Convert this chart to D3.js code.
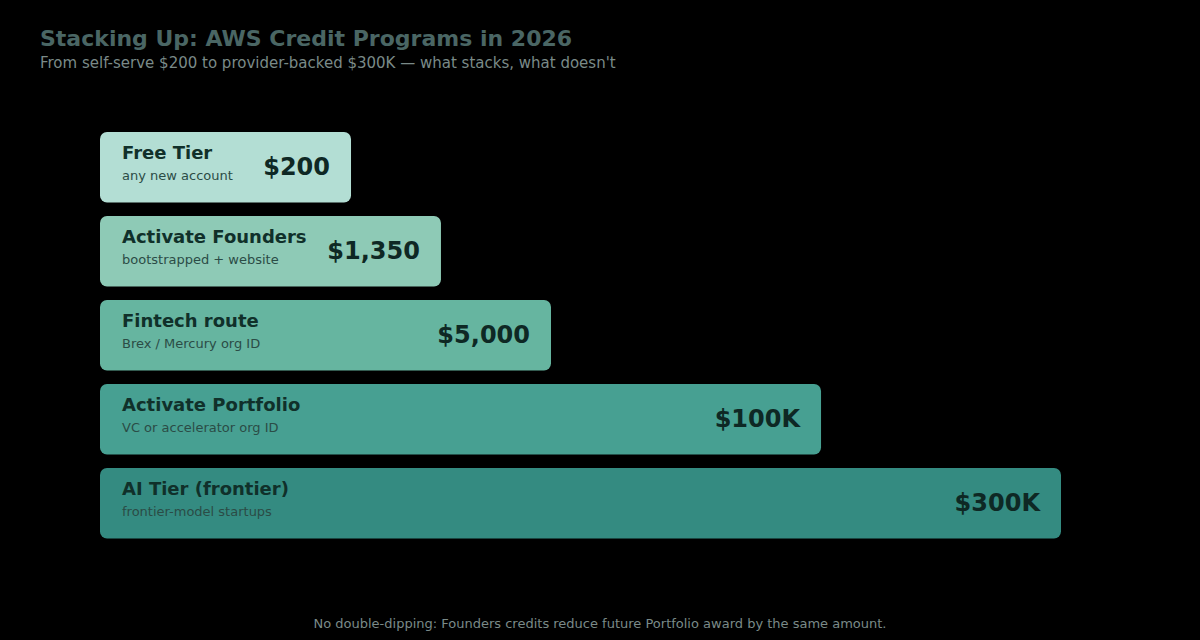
<!DOCTYPE html>
<html>
<head>
<meta charset="utf-8">
<script src="https://cdn.jsdelivr.net/npm/d3@7"></script>
<style>
  html, body { margin: 0; padding: 0; background: #000; }
  svg { display: block; }
  text { font-family: "DejaVu Sans", sans-serif; }
</style>
</head>
<body>
<script>
// ---- data ----
const programs = ["Free Tier", "Activate Founders", "Fintech route", "Activate Portfolio", "AI Tier (frontier)"];
const notes = ["any new account", "bootstrapped + website", "Brex / Mercury org ID", "VC or accelerator org ID", "frontier-model startups"];
const credits = [200, 1350, 5000, 100000, 300000];
const creditLabels = ["$200", "$1,350", "$5,000", "$100K", "$300K"];
const title = "Stacking Up: AWS Credit Programs in 2026";
const subtitle = "From self-serve $200 to provider-backed $300K \u2014 what stacks, what doesn't";
const footnote = "No double-dipping: Founders credits reduce future Portfolio award by the same amount.";

// ---- layout ----
const W = 1200, H = 640;
const left = 100, right = 1061;
const svg = d3.select("body").append("svg").attr("width", W).attr("height", H);
svg.append("rect").attr("width", W).attr("height", H).attr("fill", "#000");

// compressed (non-proportional) width scale — step-wise mapping of credit value to bar length
const x = d3.scaleLinear()
  .domain(credits)
  .range([0.2612, 0.3548, 0.4693, 0.7503, 1].map(f => left + f * (right - left)));

const y = d3.scaleBand()
  .domain(programs)
  .range([132, 132 + 84 * programs.length - 14])
  .paddingInner(14 / 84)
  .paddingOuter(0);

const color = d3.scaleOrdinal()
  .domain(programs)
  .range(["#b3ded4", "#8ecab6", "#66b5a0", "#47a092", "#348b81"]);

const rows = programs.map((p, i) => ({ p, note: notes[i], v: credits[i], lab: creditLabels[i] }));

const g = svg.append("g").selectAll("g").data(rows).join("g")
  .attr("transform", d => `translate(0,${y(d.p)})`);

g.append("rect")
  .attr("x", left)
  .attr("y", 0)
  .attr("width", d => x(d.v) - left)
  .attr("height", y.bandwidth() + 0.5)
  .attr("rx", 7).attr("ry", 7)
  .attr("fill", d => color(d.p));

g.append("text")
  .attr("x", left + 22)
  .attr("y", 27)
  .attr("font-size", 18)
  .attr("font-weight", "bold")
  .attr("fill", "#10302a")
  .text(d => d.p);

g.append("text")
  .attr("x", left + 22)
  .attr("y", 48)
  .attr("font-size", 13)
  .attr("fill", "#2b4c46")
  .text(d => d.note);

g.append("text")
  .attr("x", d => x(d.v) - 21)
  .attr("y", y.bandwidth() / 2)
  .attr("dy", "0.32em")
  .attr("text-anchor", "end")
  .attr("font-size", 24)
  .attr("font-weight", "bold")
  .attr("fill", "#0e2824")
  .text(d => d.lab);

svg.append("text")
  .attr("x", 40).attr("y", 46)
  .attr("font-size", 22).attr("font-weight", "bold")
  .attr("fill", "#4a6664")
  .text(title);

svg.append("text")
  .attr("x", 40).attr("y", 68)
  .attr("font-size", 15)
  .attr("fill", "#7a8a88")
  .text(subtitle);

svg.append("text")
  .attr("x", W / 2).attr("y", 628)
  .attr("text-anchor", "middle")
  .attr("font-size", 13)
  .attr("fill", "#7a8a88")
  .text(footnote);
</script>
</body>
</html>
